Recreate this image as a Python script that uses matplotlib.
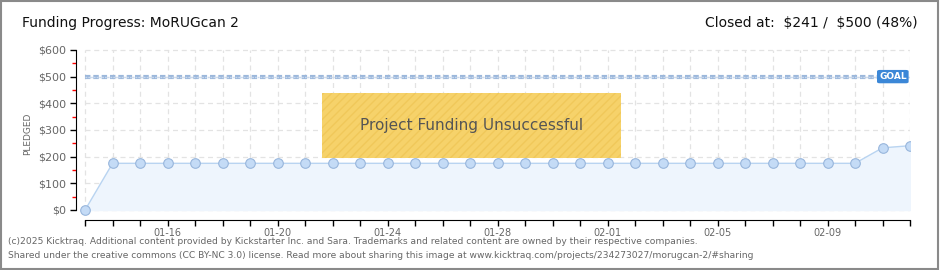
import numpy as np
import matplotlib.pyplot as plt
from matplotlib.patches import Rectangle, FancyBboxPatch

days = ['01-13', '01-14', '01-15', '01-16', '01-17', '01-18', '01-19', '01-20',
        '01-21', '01-22', '01-23', '01-24', '01-25', '01-26', '01-27', '01-28',
        '01-29', '01-30', '01-31', '02-01', '02-02', '02-03', '02-04', '02-05',
        '02-06', '02-07', '02-08', '02-09', '02-10', '02-11', '02-12']
pledged = [0, 175, 175, 175, 175, 175, 175, 175, 175, 175, 175, 175, 175, 175,
           175, 175, 175, 175, 175, 175, 175, 175, 175, 175, 175, 175, 175, 175,
           175, 233, 241]
goal = 500
y_ticks = [0, 100, 200, 300, 400, 500, 600]
label_days = ['01-16', '01-20', '01-24', '01-28', '02-01', '02-05', '02-09']

font = 'DejaVu Sans'
gray = '#666666'
x = np.arange(len(days))

fig = plt.figure(figsize=(9.4, 2.7), dpi=100)
fig.patch.set_facecolor('white')
# outer frame
fig.add_artist(Rectangle((0.001, 0.002), 0.997, 0.995, transform=fig.transFigure,
                         fill=False, edgecolor='#8a8a8a', linewidth=1.5))

ax = fig.add_axes([76 / 940, 1 - 220 / 270, (910 - 76) / 940, 173 / 270])
ax.set_xlim(-0.33, len(days) - 1)
ax.set_ylim(-37.5, 611)

# grid
ax.hlines(y_ticks, 0, len(days) - 1, colors='#e3e3e3', linestyles=(0, (4, 3)), linewidth=0.9, zorder=0)
ax.vlines(x, 0, 600, colors='#e3e3e3', linestyles=(0, (4, 3)), linewidth=0.9, zorder=0)

# area and line
ax.fill_between(x, pledged, 0, color='#eef5fd', zorder=1)
ax.plot(x, pledged, color='#b9d4f1', linewidth=1, zorder=2)
ax.scatter(x, pledged, s=48, facecolor='#c4dbf6', edgecolor='#98b6dc', linewidth=0.8, zorder=3)

# goal line
ax.plot([0, len(days) - 1], [goal, goal], color='#9bb7db', linewidth=3, linestyle=(0, (1.3, 0.7)), zorder=2)
ax.plot([0, len(days) - 1], [goal, goal], color='#c9d9ee', linewidth=1, linestyle=(0, (1.3, 0.7)), zorder=2)
ax.add_patch(FancyBboxPatch((28.8, goal - 25), 1.15, 50, boxstyle='round,pad=0,rounding_size=0.1',
                            facecolor='#3b87d7', edgecolor='none', zorder=4, mutation_aspect=50))
ax.text(29.375, goal, 'GOAL', color='white', fontsize=6.5, fontweight='bold', family=font,
        ha='center', va='center', zorder=5)

# unsuccessful box
ax.add_patch(Rectangle((8.6, 195), 10.9, 245, facecolor='#f6d26a', edgecolor='#f0c85a',
                       hatch='////', linewidth=0, zorder=4))
ax.text(14.05, 317, 'Project Funding Unsuccessful', color='#555555', fontsize=11,
        family=font, ha='center', va='center', zorder=5)

# axes styling
for s in ['top', 'right']:
    ax.spines[s].set_visible(False)
ax.spines['left'].set_bounds(0, 600)
ax.spines['bottom'].set_bounds(0, len(days) - 1)
ax.set_yticks(y_ticks)
ax.set_yticklabels(['$%d' % v for v in y_ticks], color=gray, fontsize=8, family=font)
ax.set_yticks(np.arange(50, 600, 100), minor=True)
ax.tick_params(axis='y', which='major', length=4, width=1, color='black', pad=3)
ax.tick_params(axis='y', which='minor', length=3, width=1, color='red')
ax.set_xticks(x)
ax.set_xticklabels([d if d in label_days else '' for d in days], color=gray, fontsize=7, family=font)
ax.tick_params(axis='x', length=4, width=1, color='black', pad=1.5)
ax.set_ylabel('PLEDGED', color=gray, fontsize=6.5, family=font, labelpad=4)

# titles
fig.text(22 / 940, 1 - 23 / 270, 'Funding Progress: MoRUGcan 2', fontsize=10, family=font,
         color='#111111', va='center')
fig.text(918 / 940, 1 - 23 / 270, r'Closed at:  \$241 /  \$500 (48%)', fontsize=10, family=font,
         color='#111111', va='center', ha='right')

# footer
fig.text(8 / 940, 1 - 242 / 270,
         '(c)2025 Kicktraq. Additional content provided by Kickstarter Inc. and Sara. Trademarks and related content are owned by their respective companies.',
         fontsize=6.6, color=gray, family=font, va='center')
fig.text(8 / 940, 1 - 255 / 270,
         'Shared under the creative commons (CC BY-NC 3.0) license. Read more about sharing this image at www.kicktraq.com/projects/234273027/morugcan-2/#sharing',
         fontsize=6.6, color=gray, family=font, va='center')

fig.savefig('out.png', dpi=100)
